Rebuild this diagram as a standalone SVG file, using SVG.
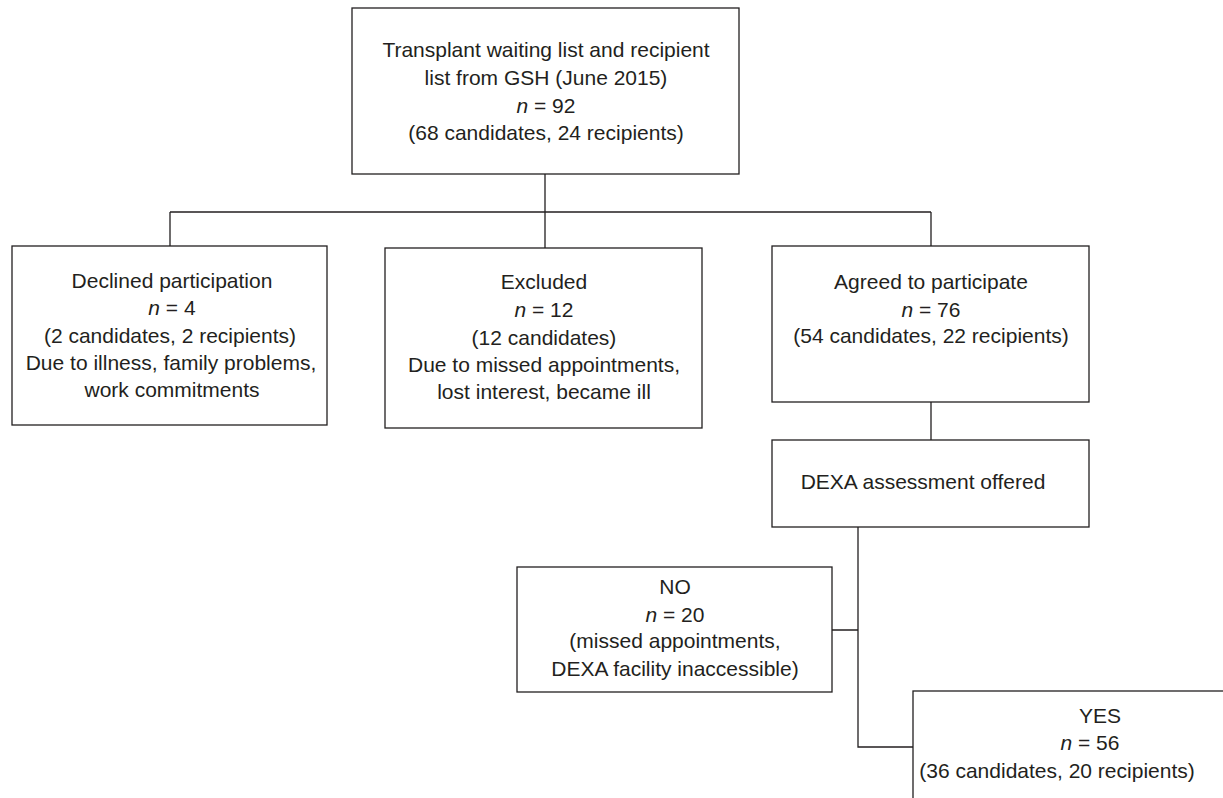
<svg xmlns="http://www.w3.org/2000/svg" width="1223" height="798" viewBox="0 0 1223 798">
<style>
.box{fill:#fff;stroke:#231f20;stroke-width:1.3}
.ln{fill:none;stroke:#231f20;stroke-width:1.3}
text{font-family:"Liberation Sans",Arial,sans-serif;font-size:21px;fill:#231f20;text-anchor:middle}
.i{font-style:italic}
</style>
<rect width="1223" height="798" fill="#fff"/>
<g id="connectors">
<path class="ln" d="M545 174V212M170 212H931M170 212V246M545 212V248M931 212V246M931 402V440M858 527V747H913M832 630H858"/>
</g>
<g id="top">
<rect class="box" x="352" y="8" width="387" height="166"/>
<text x="546" y="57">Transplant waiting list and recipient</text>
<text x="546" y="85">list from GSH (June 2015)</text>
<text x="546" y="113"><tspan class="i">n</tspan> = 92</text>
<text x="546" y="140">(68 candidates, 24 recipients)</text>
</g>
<g id="declined">
<rect class="box" x="12" y="246" width="315" height="179"/>
<text x="172" y="288">Declined participation</text>
<text x="172" y="315"><tspan class="i">n</tspan> = 4</text>
<text x="170" y="343">(2 candidates, 2 recipients)</text>
<text x="171" y="370">Due to illness, family problems,</text>
<text x="172" y="397">work commitments</text>
</g>
<g id="excluded">
<rect class="box" x="385" y="248" width="317" height="180"/>
<text x="544" y="289">Excluded</text>
<text x="544" y="317"><tspan class="i">n</tspan> = 12</text>
<text x="544" y="345">(12 candidates)</text>
<text x="544" y="372">Due to missed appointments,</text>
<text x="544" y="399">lost interest, became ill</text>
</g>
<g id="agreed">
<rect class="box" x="772" y="246" width="317" height="156"/>
<text x="931" y="289">Agreed to participate</text>
<text x="931" y="317"><tspan class="i">n</tspan> = 76</text>
<text x="931" y="343">(54 candidates, 22 recipients)</text>
</g>
<g id="dexa">
<rect class="box" x="772" y="440" width="317" height="87"/>
<text x="923" y="489">DEXA assessment offered</text>
</g>
<g id="no">
<rect class="box" x="517" y="567" width="315" height="125"/>
<text x="675" y="594">NO</text>
<text x="675" y="622"><tspan class="i">n</tspan> = 20</text>
<text x="675" y="648">(missed appointments,</text>
<text x="675" y="676">DEXA facility inaccessible)</text>
</g>
<g id="yes">
<rect class="box" x="913" y="691" width="320" height="120"/>
<text x="1100" y="723">YES</text>
<text x="1090" y="750"><tspan class="i">n</tspan> = 56</text>
<text x="1057" y="778">(36 candidates, 20 recipients)</text>
</g>
</svg>
